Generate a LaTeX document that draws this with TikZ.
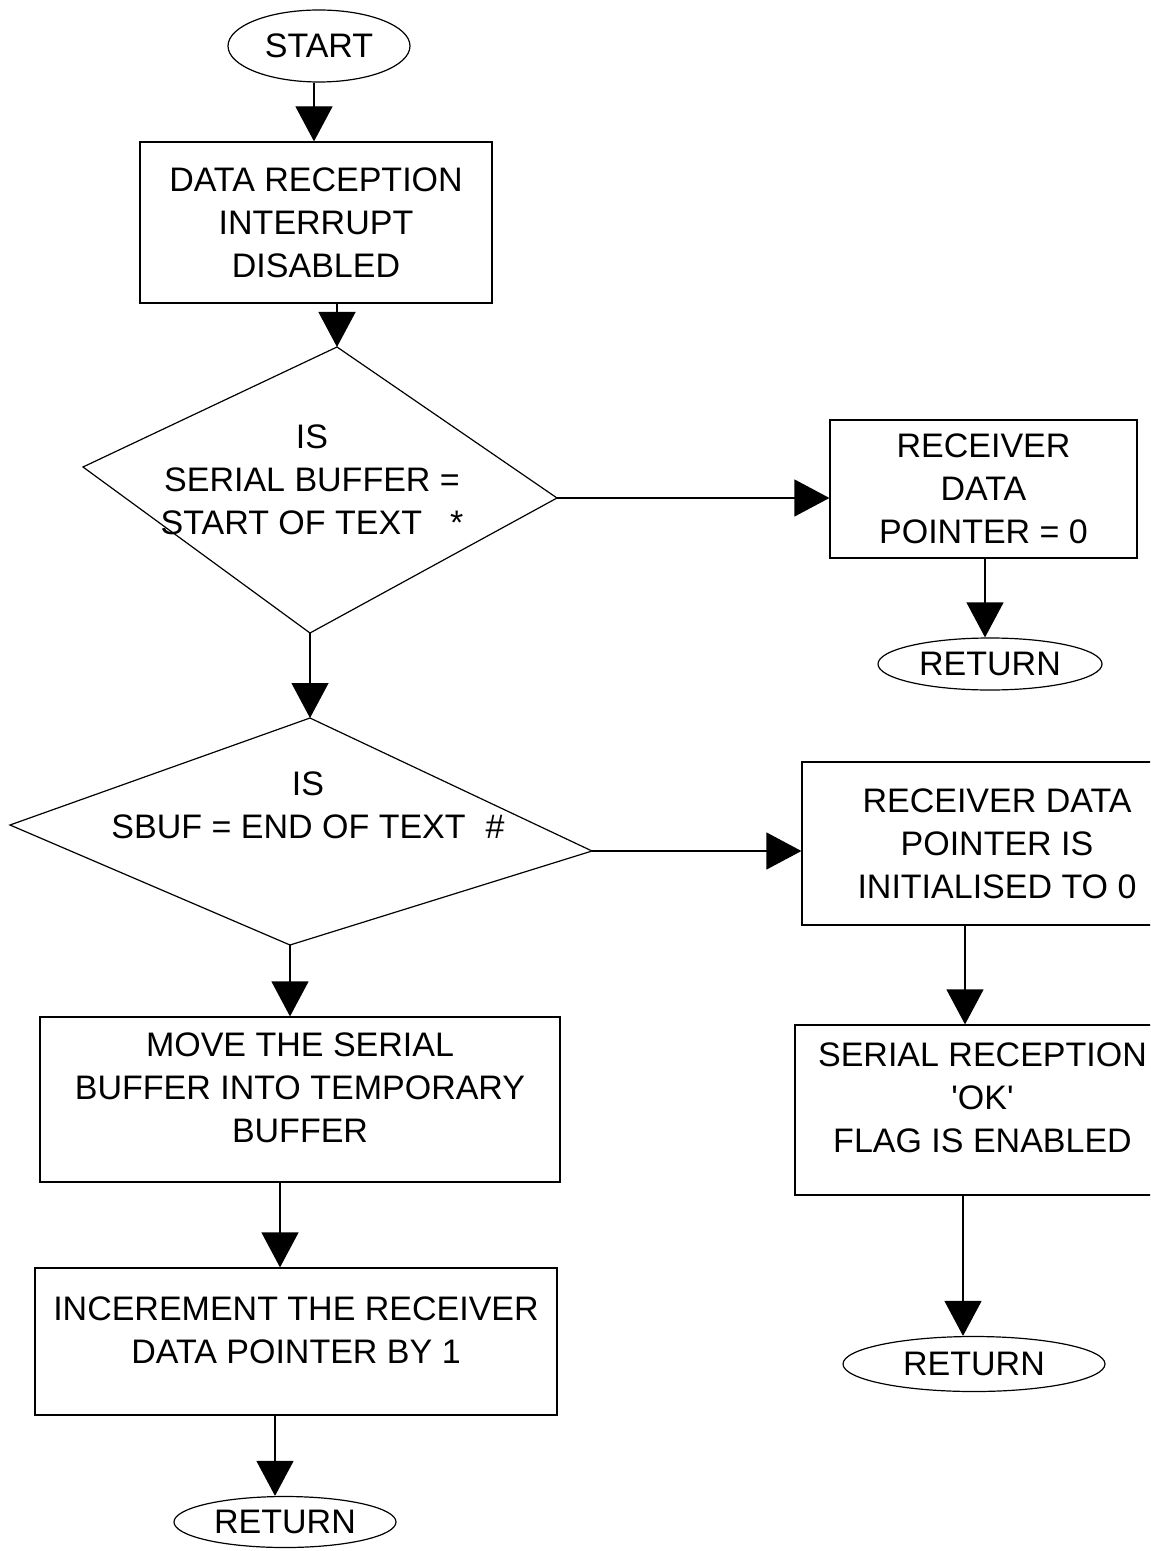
\documentclass[tikz,border=0pt]{standalone}
\usepackage{fontspec}
\setmainfont{Liberation Sans}
\usetikzlibrary{arrows.meta,shapes.geometric}
\begin{document}
\begin{tikzpicture}[x=0.5pt,y=-0.5pt,
  font=\fontsize{17}{21.5}\selectfont,
  line width=0.6pt,
  arr/.style={-{Triangle[width=18.5pt,length=17.5pt]}},
  procbox/.style={draw,rectangle,inner sep=0pt,align=center},
  term/.style={draw,ellipse,inner sep=0pt},
  dtext/.style={align=center,inner sep=0pt}]
\useasboundingbox (0,0) rectangle (1150,1551);
\clip (0,0) rectangle (1150,1551);

% terminals and boxes
\node[term,minimum width=91pt,minimum height=36pt] (start) at (319,46) {START};
\node[procbox,minimum width=176pt,minimum height=80.5pt] (box1) at (316,222.5) {DATA RECEPTION\\INTERRUPT\\DISABLED};

% decision 1
\coordinate (d1t) at (337,347);
\coordinate (d1r) at (557,498);
\coordinate (d1b) at (310,633);
\coordinate (d1l) at (83,467);
\draw (d1t) -- (d1r) -- (d1b) -- (d1l) -- cycle;
\node[dtext] (d1) at (312,480) {IS\\SERIAL BUFFER =\\START OF TEXT\hspace{14pt}*};

\node[procbox,minimum width=153.5pt,minimum height=69pt] (box2) at (983.5,489) {RECEIVER\\DATA\\POINTER = 0};
\node[term,minimum width=112pt,minimum height=26pt] (ret1) at (990,664) {RETURN};

% decision 2
\coordinate (d2t) at (310,718);
\coordinate (d2r) at (592,851);
\coordinate (d2b) at (290,945);
\coordinate (d2l) at (10,825);
\draw (d2t) -- (d2r) -- (d2b) -- (d2l) -- cycle;
\node[dtext] (d2) at (308,805) {IS\\SBUF = END OF TEXT\hspace{10pt}\#};

\node[procbox,minimum width=195pt,minimum height=81.5pt] (box3) at (997,843.5) {RECEIVER DATA\\POINTER IS\\INITIALISED TO 0};
\node[procbox,minimum width=187.5pt,minimum height=85pt] (box4) at (982.5,1110) {SERIAL RECEPTION\\\textquotesingle OK\textquotesingle\\FLAG IS ENABLED\\[-9.5pt]\mbox{}};
\node[term,minimum width=131pt,minimum height=27.5pt] (ret2) at (974,1364) {RETURN};

\node[procbox,minimum width=260pt,minimum height=82.5pt] (box5) at (300,1099.5) {MOVE THE SERIAL\\BUFFER INTO TEMPORARY\\BUFFER\\[-9.5pt]\mbox{}};
\node[procbox,minimum width=261pt,minimum height=73.5pt] (box6) at (296,1341.5) {INCEREMENT THE RECEIVER\\DATA POINTER BY 1\\[-10.5pt]\mbox{}};
\node[term,minimum width=111pt,minimum height=25.5pt] (ret3) at (285,1522) {RETURN};

% arrow x positions
\coordinate (a1) at (314,0);
\coordinate (a3) at (985,0);
\coordinate (a5) at (965,0);
\coordinate (a6) at (963,0);
\coordinate (a7) at (280,0);
\coordinate (a8) at (275,0);

% connectors
\draw[arr] (start.south -| a1) -- (box1.north -| a1);
\draw[arr] (box1.south -| d1t) -- (d1t);
\draw[arr] (d1r) -- (d1r -| box2.west);
\draw[arr] (box2.south -| a3) -- (ret1.north -| a3);
\draw[arr] (d1b) -- (d2t);
\draw[arr] (d2r) -- (d2r -| box3.west);
\draw[arr] (box3.south -| a5) -- (box4.north -| a5);
\draw[arr] (box4.south -| a6) -- (ret2.north -| a6);
\draw[arr] (d2b) -- (d2b |- box5.north);
\draw[arr] (box5.south -| a7) -- (box6.north -| a7);
\draw[arr] (box6.south -| a8) -- (ret3.north -| a8);
\end{tikzpicture}
\end{document}
